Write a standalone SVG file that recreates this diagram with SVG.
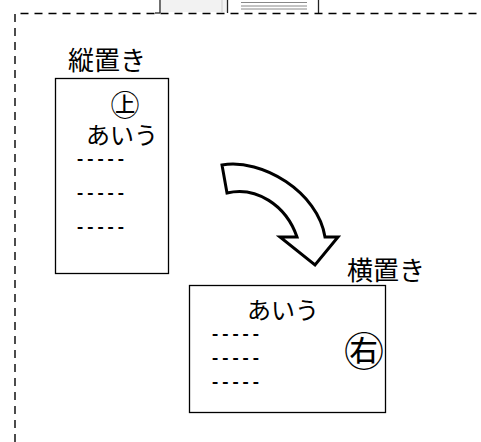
<svg xmlns="http://www.w3.org/2000/svg" width="481" height="442" viewBox="0 0 481 442">
<style>
.jp{font-family:"Noto Sans CJK JP",sans-serif;fill:#000}
.dash{font-family:"Liberation Mono",monospace;font-size:17px;fill:#000;font-weight:bold}
.box{fill:#fff;stroke:#000;stroke-width:1.3}
</style>
<rect width="481" height="442" fill="#fff"/>
<g id="toolbar">
<rect x="161" y="0" width="66" height="12" fill="#f2f2f2"/>
<line x1="160" y1="0" x2="160" y2="13" stroke="#222" stroke-width="1.3"/>
<line x1="155" y1="13" x2="160" y2="13" stroke="#222" stroke-width="1.3"/>
<line x1="222" y1="0" x2="222" y2="12" stroke="#ccc" stroke-width="1"/>
<line x1="227.5" y1="0" x2="227.5" y2="13" stroke="#222" stroke-width="1.3"/>
<line x1="241" y1="2.5" x2="307" y2="2.5" stroke="#888" stroke-width="1"/>
<line x1="241" y1="6" x2="307" y2="6" stroke="#888" stroke-width="1"/>
<line x1="241" y1="9" x2="307" y2="9" stroke="#888" stroke-width="1"/>
<line x1="318.5" y1="0" x2="318.5" y2="13" stroke="#222" stroke-width="1.3"/>
</g>
<g id="frame">
<path d="M15,442 V13.5 H481" fill="none" stroke="#000" stroke-width="1.4" stroke-dasharray="8,6"/>
</g>
<g id="label-tate">
<text class="jp" x="68" y="70" font-size="26">縦置き</text>
</g>
<g id="node-tate">
<rect class="box" x="55.5" y="78.5" width="113" height="195"/>
<text class="jp" x="125" y="116" font-size="29" text-anchor="middle">㊤</text>
<text class="jp" x="86" y="144" font-size="24">あいう</text>
<text class="dash" x="75" y="164">-----</text>
<text class="dash" x="75" y="198">-----</text>
<text class="dash" x="75" y="232">-----</text>
</g>
<g id="connectors">
<path d="M222,165 C262,158 318,192 325,237 L338,237 L315,265 L280,237 L297,237 C286,205 256,186 227,193 Z" fill="#fff" stroke="#000" stroke-width="3" stroke-linejoin="miter"/>
</g>
<g id="label-yoko">
<text class="jp" x="347" y="280" font-size="26">横置き</text>
</g>
<g id="node-yoko">
<rect class="box" x="189.5" y="285.5" width="196" height="127"/>
<text class="jp" x="247" y="319" font-size="24">あいう</text>
<text class="dash" x="210" y="339">-----</text>
<text class="dash" x="210" y="363">-----</text>
<text class="dash" x="210" y="387">-----</text>
<text class="jp" x="364" y="366" font-size="40" text-anchor="middle">㊨</text>
</g>
</svg>
